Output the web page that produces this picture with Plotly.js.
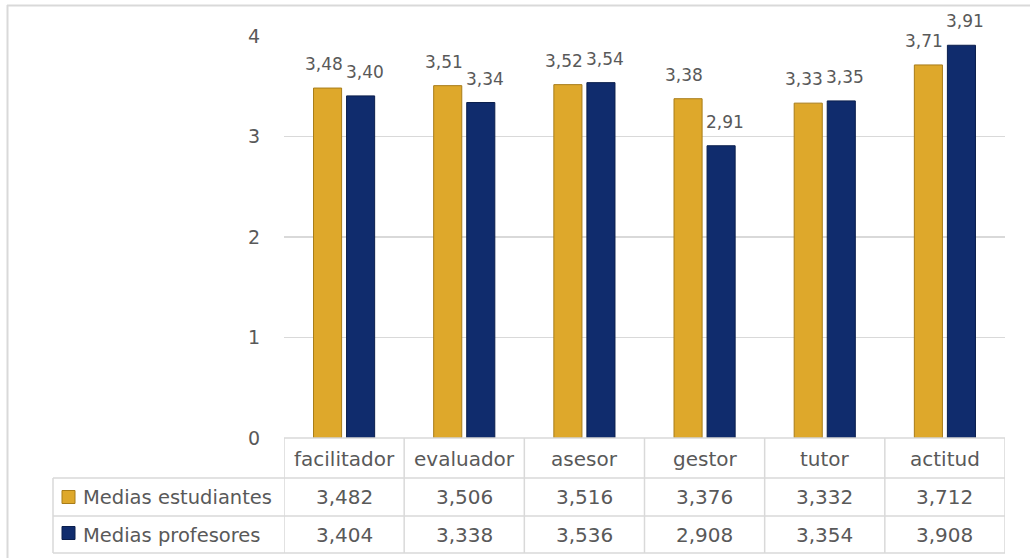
<!DOCTYPE html>
<html>
<head>
<meta charset="utf-8">
<script src="https://cdn.plot.ly/plotly-3.0.1.min.js"></script>
<style>html,body{margin:0;padding:0;background:#fff;}#chart{width:1030px;height:558px;}</style>
</head>
<body>
<div id="chart"></div>
<script>
const categories = ["facilitador", "evaluador", "asesor", "gestor", "tutor", "actitud"];
const seriesNames = ["Medias estudiantes", "Medias profesores"];
const estudiantes = [3.482, 3.506, 3.516, 3.376, 3.332, 3.712];
const profesores = [3.404, 3.338, 3.536, 2.908, 3.354, 3.908];
const yTicks = [0, 1, 2, 3, 4];

const GOLD = "#DEA82B", BLUE = "#102C6D", GRID = "#D9D9D9", TXT = "#595959";
const FONT = "DejaVu Sans, sans-serif";
const series = [estudiantes, profesores];
const colors = [GOLD, BLUE];
const lineCols = ["#A87C18", "#0A1E4C"];

const traces = series.map((vals, s) => ({
  type: "bar", name: seriesNames[s], x: categories, y: vals,
  marker: {color: colors[s], line: {color: lineCols[s], width: 1}},
  hoverinfo: "x+y", showlegend: false
}));

const comma = (v, d) => v.toFixed(d).replace(".", ",");
const annotations = [];
const shapes = [];
const labelOffs = [-20.5, 20.5];
// data labels
series.forEach((vals, s) => vals.forEach((v, i) => annotations.push({
  x: categories[i], y: v, xref: "x", yref: "y", xshift: labelOffs[s], yshift: 12,
  yanchor: "bottom", showarrow: false, text: comma(v, 2),
  font: {family: FONT, size: 17, color: TXT}
})));
// table geometry (paper coords: plot area is 284..1005 x, 36..438 y)
const py = y => (438 - y) / 402;
const px = x => (x - 284) / 721;
const rowMid = [py(459), py(497), py(535)];
categories.forEach((c, i) => {
  annotations.push({x: c, y: rowMid[0], xref: "x", yref: "paper", showarrow: false, yanchor: "middle",
    text: c, font: {family: FONT, size: 20, color: TXT}});
  series.forEach((vals, s) => annotations.push({x: c, y: rowMid[s + 1], xref: "x", yref: "paper",
    showarrow: false, yanchor: "middle", text: comma(vals[i], 3), font: {family: FONT, size: 20, color: TXT}}));
});
seriesNames.forEach((n, s) => {
  annotations.push({x: px(81), y: rowMid[s + 1], xref: "paper", yref: "paper", xanchor: "left",
    yanchor: "middle", showarrow: false, text: n, font: {family: FONT, size: 19.5, color: TXT}});
  const yc = [497, 533][s];
  shapes.push({type: "rect", xref: "paper", yref: "paper", x0: px(62), x1: px(75), y0: py(yc - 6.5), y1: py(yc + 6.5),
    fillcolor: colors[s], line: {color: lineCols[s], width: 1}});
});
const L = {color: GRID, width: 1.5};
// horizontal table lines
shapes.push({type: "line", xref: "paper", yref: "paper", x0: 0, x1: 1, y0: 0, y1: 0, line: L});
[478, 516, 553].forEach(y => shapes.push({type: "line", xref: "paper", yref: "paper",
  x0: px(53), x1: 1, y0: py(y), y1: py(y), line: L}));
// vertical table lines
shapes.push({type: "line", xref: "paper", yref: "paper", x0: px(53), x1: px(53), y0: py(478), y1: py(553), line: L});
for (let i = 0; i <= categories.length; i++) {
  shapes.push({type: "line", xref: "x", yref: "paper", x0: i - 0.5, x1: i - 0.5, y0: 0, y1: py(553), line: L});
}
// chart frame
shapes.push({type: "line", xref: "paper", yref: "paper", x0: px(7.5), x1: px(7.5), y0: py(5), y1: py(560), line: {color: GRID, width: 2}});
shapes.push({type: "line", xref: "paper", yref: "paper", x0: px(7), x1: px(1032), y0: py(5.5), y1: py(5.5), line: {color: GRID, width: 2}});

const layout = {
  width: 1030, height: 558,
  margin: {l: 284, r: 25, t: 36, b: 120},
  paper_bgcolor: "#fff", plot_bgcolor: "#fff",
  barmode: "group", bargap: 0.45, bargroupgap: 0.15,
  font: {family: FONT, color: TXT},
  xaxis: {type: "category", range: [-0.5, categories.length - 0.5], showticklabels: false,
    showgrid: false, zeroline: false, showline: false, ticks: ""},
  yaxis: {range: [0, 4], tickvals: yTicks, ticktext: yTicks.map(String), showgrid: true, gridcolor: GRID, gridwidth: 1.3,
    zeroline: false, showline: false, ticks: "outside", ticklen: 19, tickcolor: "rgba(0,0,0,0)",
    tickfont: {family: FONT, size: 19, color: TXT}},
  annotations, shapes, showlegend: false
};
Plotly.newPlot("chart", traces, layout, {displayModeBar: false, staticPlot: true});
</script>
</body>
</html>
